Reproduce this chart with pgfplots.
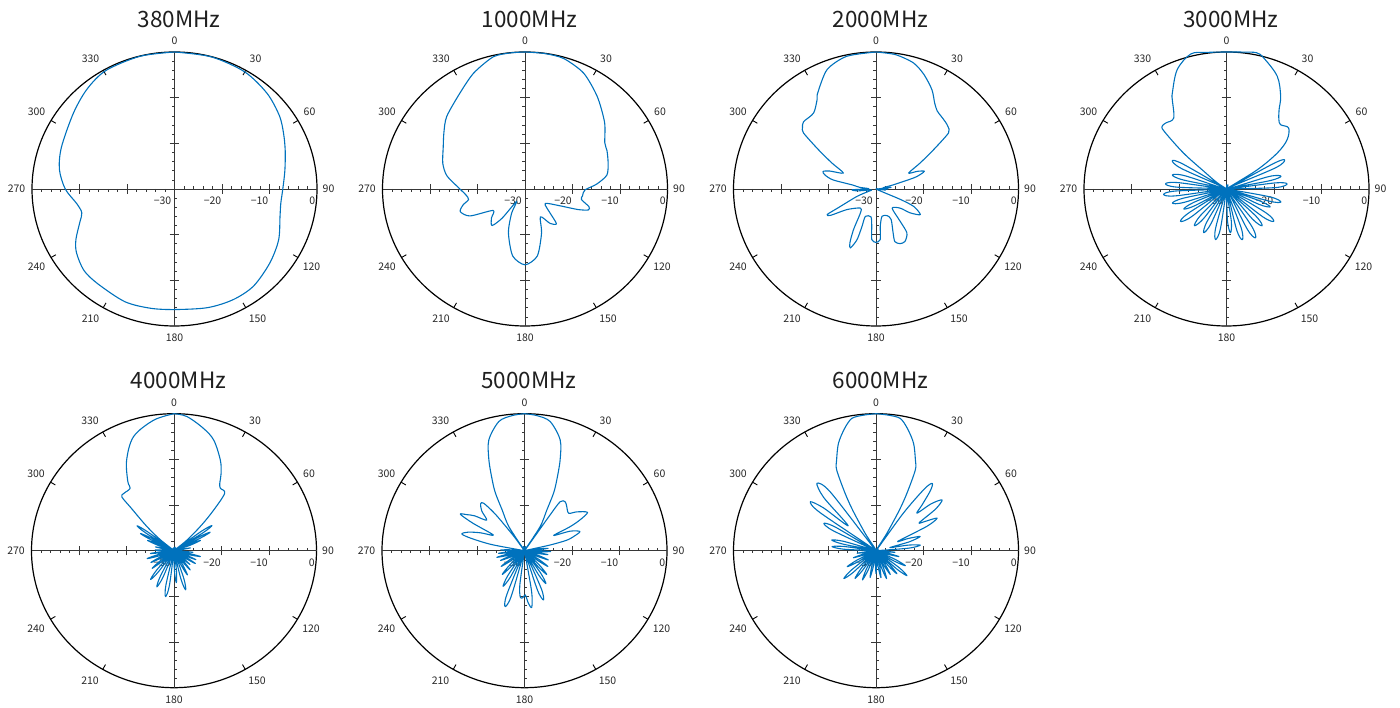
\documentclass[border=0pt]{standalone}
\usepackage{fontspec}
\setmainfont{Noto Sans CJK JP}
\usepackage{pgfplots}
\pgfplotsset{compat=1.18}
\usepackage{pgfplotstable}
\definecolor{patblue}{RGB}{0,114,189}
\definecolor{axgray}{RGB}{55,55,55}
\definecolor{txt}{RGB}{40,40,40}

% angle a (deg, clockwise from top), level r (dB)
\pgfplotstableread{
a r
0 0
15 -0.05
30 -0.4
43 -1.4
54 -2.7
62 -4.0
70 -5.2
80 -6.4
90 -7.2
98 -7.4
105 -7.0
117 -5.4
129 -4.2
142 -3.0
153 -2.8
165 -3.1
180 -3.6
191 -3.4
203 -3.2
218 -3.7
227 -3.9
236 -5.1
242 -6.5
250 -8.8
255 -9.8
261 -9.2
270 -7.0
280 -5.4
291 -4.5
308 -3.0
320 -1.4
331 -0.3
346 -0.05
360 0
}\pA

\pgfplotstableread{
a r
0 0
8 -0.05
16 -0.3
26 -1.8
37 -4.7
49 -7.8
59 -10.4
64 -10.8
72 -11.6
80 -12.5
86 -14.9
91 -17.4
97 -17.8
101 -17.9
106 -16.0
109 -15.9
112 -18.0
117 -22.0
127 -24.7
135 -22.5
139 -19.9
145 -20.8
152 -23.1
160 -19.8
170 -15.1
180 -13.4
190 -15.1
200 -19.8
208 -24.0
213 -26.8
217 -22.0
221 -19.4
228 -20.5
235 -21.8
243 -17.0
250 -15.5
255 -16.5
259 -17.9
264 -17.5
270 -16.3
280 -13.3
288 -11.8
298 -10.5
306 -8.9
314 -7.1
327 -4.9
337 -2.4
347 -0.3
354 -0.05
360 0
}\pB

\pgfplotstableread{
a r
0 0
8 -0.3
16 -1.3
22 -3.0
28.5 -5.3
33.3 -7.5
37 -8.6
41 -9.0
45 -9.3
48 -9.6
51.2 -10.4
54.6 -15.1
58.5 -19.1
63.1 -22.3
66 -20.5
69 -19.1
71 -20.0
73 -21.7
76 -26.2
80 -28.5
84 -26.8
87 -29.5
90 -27.5
93 -29.5
97 -28
102 -30
114 -24.4
115.7 -21.2
121 -19.1
126 -21.1
129.5 -23.4
141 -24.6
144.3 -21.3
145.9 -18.4
152 -17.0
157 -17.0
161 -17.8
159.5 -19.7
154.5 -22.6
158 -23.7
168 -23.9
173.7 -21.8
175.4 -18.9
180 -18.3
184.6 -18.9
186.3 -21.8
189.8 -23.8
200.5 -23.6
199.8 -21.3
199.8 -18.2
202.7 -16.0
205 -17.0
208 -19.9
212 -23.8
218 -24.7
233.6 -22.4
238.9 -18.8
241.5 -18.3
242.6 -20.9
248 -25.7
252 -28.5
258 -29
264 -26
268 -25
272 -28.5
276 -26.5
280 -25
282.4 -20.7
286 -18.8
289 -18.2
292 -19.5
296.9 -22.3
301.5 -19.1
305.4 -15.1
308.8 -10.4
311 -9.5
314 -8.8
321.7 -8.8
327.7 -6.8
329.6 -5.7
338.5 -1.9
348 -0.3
360 0
}\pC

\pgfplotstableread{
a r
0 0
6 0.15
12 0.5
15.4 -0.3
23.4 -3.1
29.3 -6.7
32.5 -9.4
35.9 -11.2
38.9 -11.9
44.4 -11.3
49.8 -13.3
53.6 -16.7
57 -22.3
59 -30
60.6 -18.7
62.5 -16.2
65.8 -18.7
68.5 -30
73 -20.7
76.3 -18.2
78.7 -20.7
80.65 -30
82.6 -19.7
85 -17.2
88.3 -19.7
91 -30
98 -30
100.7 -20.7
104 -18.2
106.5 -20.7
108.5 -30
110.5 -22.5
113 -20
116.3 -22.5
119 -30
122.1 -20.3
125.4 -17.8
128.6 -20.3
131.2 -30
133.8 -21.5
137 -19
140.3 -21.5
143 -30
147 -20.2
150.3 -17.7
153.6 -20.2
156.3 -30
160.1 -20.9
163.4 -18.4
166.6 -20.9
169.2 -30
171.8 -22.9
175 -20.4
178.3 -22.9
181 -30
185.7 -30
188.4 -21.2
191.7 -18.7
195 -21.2
197.7 -30
200.6 -30
203.3 -21.8
206.6 -19.3
209.9 -21.8
212.6 -30
216.7 -22
220 -19.5
223.3 -22
226 -30
230.5 -20.5
233.8 -18
236.6 -20.5
238.9 -30
241.2 -22.5
244 -20
247 -22.5
249.4 -30
251.8 -20.7
254.8 -18.2
257.5 -20.7
259.8 -30
262 -19.2
264.8 -16.7
267.6 -19.2
269.9 -30
272.2 -19.6
275 -17.1
277.75 -19.6
280 -30
282.25 -20.7
285 -18.2
288.3 -20.7
291 -30
295.3 -19.5
298.6 -17
300.8 -19.5
302.6 -30
305 -27.5
309 -24
311 -18
313.9 -11.8
315.4 -10.7
318.5 -10.7
324.4 -10.9
329.8 -7.3
331.5 -6.1
338.3 -1.9
345.7 0.5
352 0.2
360 0
}\pD

\pgfplotstableread{
a r
0 0
5.3 -0.5
13 -2.5
19.1 -4.4
26.2 -7.9
30.4 -10.4
33.2 -12.4
35.5 -13.2
40.3 -13.5
43.2 -17.8
46 -22
49.6 -26.4
52 -30
53.6 -22.8
55.5 -20.3
57.3 -22.8
58.75 -30
60.2 -23.9
62 -21.4
63.65 -23.9
65 -30
66.35 -26.5
68 -24
70.75 -26.5
73 -30
77.25 -29
80 -26.5
82.75 -29
85 -30
90 -30
92.25 -28.5
95 -26
97.2 -28.5
99 -30
100.8 -26.8
103 -24.3
105.75 -26.8
108 -30
110.25 -27.5
113 -25
115.5 -27.5
117.5 -30
119.5 -27.2
122 -24.7
124.75 -27.2
127 -30
129.25 -28
132 -25.5
134.5 -28
136.5 -30
138.5 -27.1
141 -24.6
143.75 -27.1
146 -30
149.25 -26.5
152 -24
154.75 -26.5
157 -30
159 -30
161.25 -23.6
164 -21.1
166.75 -23.6
169 -30
171 -30
173.25 -25.5
176 -23
178.75 -25.5
181 -30
185 -30
187.25 -22.3
190 -19.8
192.75 -22.3
195 -30
199.5 -30
201.75 -23.8
204.5 -21.3
207.25 -23.8
209.5 -30
213 -30
215.25 -24.5
218 -22
220.75 -24.5
223 -30
225 -30
227.25 -26.5
230 -24
232.75 -26.5
235 -30
237 -30
239.25 -27
242 -24.5
244.75 -27
247 -30
248 -30
250.25 -26.6
253 -24.1
255.75 -26.6
258 -30
260.25 -27.5
263 -25
265.5 -27.5
267.5 -30
269.5 -28.5
272 -26
274.75 -28.5
277 -30
279.25 -28.5
282 -26
284.75 -28.5
287 -30
289.25 -26.5
292 -24
293.65 -26.5
295 -30
296.35 -24.5
298 -22
299.9 -24.5
301.5 -30
303.1 -23
305 -20.5
306.65 -23
308 -30
310 -26
313 -22
316 -17
317 -13.9
319.8 -13.6
326 -13.5
327.3 -12
333.3 -7.8
341.2 -3.6
351.5 -1.1
360 0
}\pE

\pgfplotstableread{
a r
0 0
5 -0.3
10.8 -1.2
17.2 -4.6
20.7 -8.8
23.7 -13.1
25.9 -16
27.8 -19.9
32 -23.8
34 -30
34.5 -21
35 -16.9
38.8 -16.3
42.8 -16.9
48.6 -17.6
52.3 -16.1
57.7 -14.3
60 -16.5
61.3 -19.1
61.5 -23
66 -19.5
70.2 -17.6
73 -19
75.5 -20.8
77 -24.5
80 -30
81.8 -27.5
84 -25
86.2 -27.5
88 -30
89.8 -27
92 -24.5
94.2 -27
96 -30
97.8 -27.5
100 -25
102.75 -27.5
105 -30
107 -30
109.25 -27.1
112 -24.6
114.75 -27.1
117 -30
120 -30
122.25 -26.5
125 -24
127.75 -26.5
130 -30
133 -30
135.25 -25.5
138 -23
140.75 -25.5
143 -30
145.25 -24
148 -21.5
150.75 -24
153 -30
154.7 -30
156.95 -21
159.7 -18.5
162.45 -21
164.7 -30
168 -30
170.5 -21
173 -17.5
176 -18.5
179 -20.3
182 -19.7
185 -19.8
187.5 -22.5
190 -30
193.4 -30
195.65 -19.6
198.4 -17.1
201.15 -19.6
203.4 -30
205 -30
207.25 -23.5
210 -21
212.75 -23.5
215 -30
217 -30
219.25 -25.5
222 -23
224.75 -25.5
227 -30
230 -30
232.25 -26.5
235 -24
237.75 -26.5
240 -30
242 -30
244.25 -27
247 -24.5
249.5 -27
251.5 -30
253.5 -26.5
256 -24
258.2 -26.5
260 -30
261.8 -27
264 -24.5
266.2 -27
268 -30
269.8 -27.5
272 -25
274.2 -27.5
276 -30
278 -30
281 -23
283.5 -18.5
285.5 -16.3
289 -17.5
293 -20
297.6 -22.6
299 -17.5
300.6 -14.3
303 -15.5
306 -17
310 -19.6
314 -17.5
318 -16.2
320.4 -16.5
322.5 -20
324.5 -26
326 -30
328 -23.8
332.2 -19.9
334.1 -16
336.3 -13.1
339.3 -8.8
342.8 -4.6
349.2 -1.2
355 -0.3
360 0
}\pF

\pgfplotstableread{
a r
0 0
5 -0.2
10 -0.6
14 -2.5
18.6 -5.2
22.7 -8.5
25.1 -10.5
27.4 -15.9
29 -20
31 -25.6
33 -30
35 -20
37 -13
38.8 -11.1
41 -12.5
44 -16
46.4 -18.1
48.5 -14.5
51.4 -12.2
54 -14.5
56 -19
58 -18
61 -15.3
63.5 -18
66 -25
68.5 -22.7
71.5 -20.2
74.5 -22.7
77 -27
79.8 -23.1
82.6 -20.6
85.4 -23.1
88 -30
90 -30
92.25 -28.5
95 -26
97.75 -28.5
100 -30
102.25 -27.5
105 -25
107.75 -27.5
110 -30
113 -30
115.25 -25.5
118 -23
120.75 -25.5
123 -30
125 -30
127.25 -24
130 -21.5
132.5 -24
134.5 -30
136.5 -25.8
139 -23.3
141.75 -25.8
144 -30
145 -30
147.25 -26.5
150 -24
152.75 -26.5
155 -30
157.25 -26
160 -23.5
162.75 -26
165 -30
167.25 -26.5
170 -24
172.75 -26.5
175 -30
177.25 -27.5
180 -25
182.75 -27.5
185 -30
187 -30
189.25 -26.5
192 -24
194.75 -26.5
197 -30
199 -30
201.25 -25.5
204 -23
206.75 -25.5
209 -30
211 -30
213.25 -25
216 -22.5
218.75 -25
221 -30
223 -30
225.25 -23.4
228 -20.9
230.75 -23.4
233 -30
235 -30
237.25 -25.5
240 -23
242.75 -25.5
245 -30
247 -30
249.25 -27.5
252 -25
254.75 -27.5
257 -30
259.25 -28.5
262 -26
264.75 -28.5
267 -30
270.5 -30
272.75 -23.2
275.5 -20.7
277.8 -23.2
279.75 -30
281.7 -22.9
284 -20.4
286.75 -22.9
289 -30
293.6 -30
295.85 -20
298.6 -17.5
301.1 -20
303.2 -30
305.3 -15.5
307.8 -12.5
310.3 -15.5
313 -22
316.6 -14
319.9 -10.7
323.2 -14
325.5 -30
329 -25.6
331 -20
332.6 -15.9
334.9 -10.5
337.3 -8.5
341.4 -5.2
346 -2.5
350 -0.6
355 -0.2
360 0
}\pG

% polar frame: centre x, centre y (pt), title
\newcommand{\polarframe}[3]{%
  \begin{scope}[shift={(#1,#2)}]
    \draw[black, line width=1.2pt] (0,0) ellipse [x radius=142.5pt, y radius=137pt];
    \draw[axgray, line width=0.9pt] (-142.5,0) -- (142.5,0);
    \draw[axgray, line width=0.9pt] (0,-137) -- (0,137);
    \foreach \k in {1,2,3,4,6,7,8,9,11,12,13,14}{
      \draw[axgray, line width=0.6pt] ({\k*9.5},0) -- ({\k*9.5},2.6);
      \draw[axgray, line width=0.6pt] ({-\k*9.5},0) -- ({-\k*9.5},-2.6);
      \draw[axgray, line width=0.6pt] (0,{\k*9.1333}) -- (-2.6,{\k*9.1333});
      \draw[axgray, line width=0.6pt] (0,{-\k*9.1333}) -- (2.6,{-\k*9.1333});
    }
    \foreach \k in {5,10}{
      \draw[axgray, line width=0.9pt] ({\k*9.5},-4.8) -- ({\k*9.5},4.8);
      \draw[axgray, line width=0.9pt] ({-\k*9.5},-4.8) -- ({-\k*9.5},4.8);
      \draw[axgray, line width=0.9pt] (-4.8,{\k*9.1333}) -- (4.8,{\k*9.1333});
      \draw[axgray, line width=0.9pt] (-4.8,{-\k*9.1333}) -- (4.8,{-\k*9.1333});
    }
    \foreach \t in {60,30,-30,-60,-120,-150,150,120}{
      \draw[black, line width=0.9pt] (\t:142.5pt and 137pt) -- (\t:137pt and 131.5pt);
    }
    \foreach \lab/\dx/\dy in {0/0/148, 30/81/130, 60/135/77, 90/154/0, 120/137/-78,
        150/83/-130, 180/0/-149, 210/-84/-130, 240/-138/-78, 270/-158/0,
        300/-138/77, 330/-84/130}{
      \node[txt, inner sep=0pt, font=\fontsize{10.5}{12}\selectfont] at (\dx,\dy) {\lab};
    }
    \node[txt, anchor=base east, inner sep=0pt, font=\fontsize{10.5}{12}\selectfont] at (-3,-15.9) {−30};
    \node[txt, anchor=base east, inner sep=0pt, font=\fontsize{10.5}{12}\selectfont] at (47,-15.9) {−20};
    \node[txt, anchor=base east, inner sep=0pt, font=\fontsize{10.5}{12}\selectfont] at (94,-15.9) {−10};
    \node[txt, anchor=base east, inner sep=0pt, font=\fontsize{10.5}{12}\selectfont] at (141,-15.9) {0};
    \node[black!88, inner sep=0pt, font=\fontsize{22.5}{26}\selectfont] at (4.5,170) {#3};
  \end{scope}
}

\newcommand{\polarcurve}[4]{%
  \begin{axis}[at={(#1pt,#2pt)}, anchor=center, width=285pt, height=274pt,
      scale only axis, xmin=-30, xmax=30, ymin=-30, ymax=30, hide axis, clip=false]
    \addplot[patblue, line width=1.1pt, line join=round, #4] table[
      x expr={(max(\thisrow{r},-30)+30)*sin(\thisrow{a})},
      y expr={(max(\thisrow{r},-30)+30)*cos(\thisrow{a})}] {#3};
  \end{axis}
}

\begin{document}
\begin{tikzpicture}[x=1pt,y=1pt]
  \useasboundingbox (0,0) rectangle (1400,708);
  \polarframe{174.5}{519}{380MHz}
  \polarframe{525}{519}{1000MHz}
  \polarframe{876}{519}{2000MHz}
  \polarframe{1226.5}{519}{3000MHz}
  \polarframe{174}{157.3}{4000MHz}
  \polarframe{524.5}{157.3}{5000MHz}
  \polarframe{876}{157.3}{6000MHz}
  \polarcurve{174.5}{519}{\pA}{smooth}
  \polarcurve{525}{519}{\pB}{smooth, tension=0.45}
  \polarcurve{876}{519}{\pC}{smooth, tension=0.45}
  \polarcurve{1226.5}{519}{\pD}{smooth, tension=0.55}
  \polarcurve{174}{157.3}{\pE}{smooth, tension=0.55}
  \polarcurve{524.5}{157.3}{\pF}{smooth, tension=0.5}
  \polarcurve{876}{157.3}{\pG}{smooth, tension=0.5}
\end{tikzpicture}
\end{document}
